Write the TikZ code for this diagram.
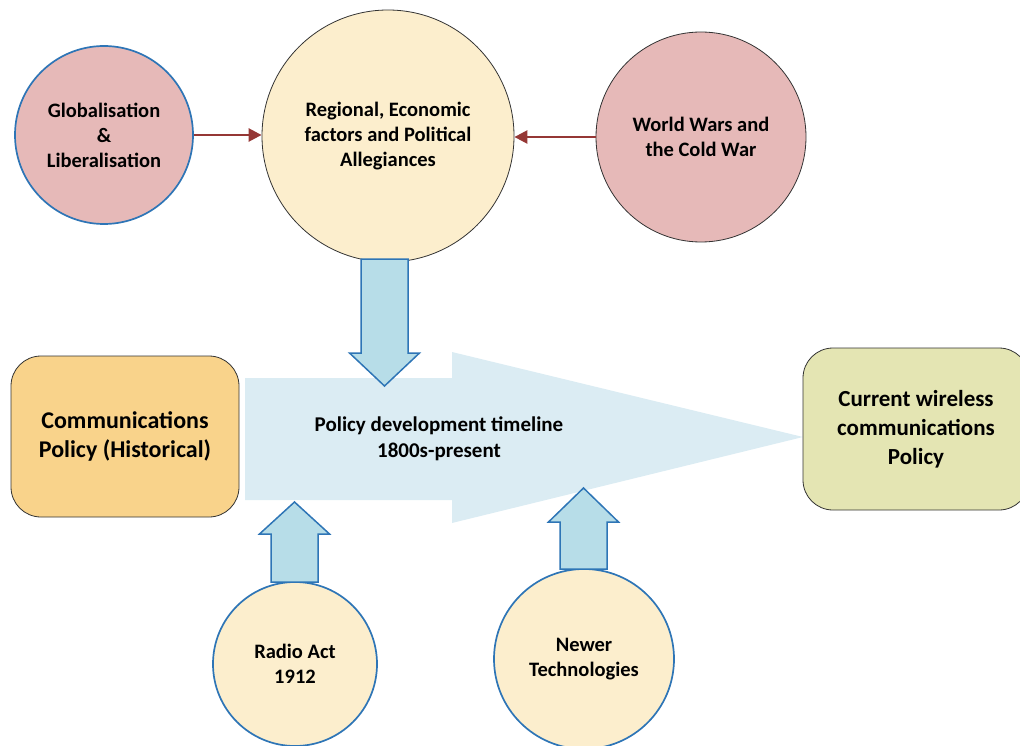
\documentclass[tikz,border=0pt]{standalone}
\usepackage{fontspec}
\setmainfont{Carlito}
\usetikzlibrary{calc,arrows.meta}

\definecolor{pinkfill}{HTML}{E6B9B8}
\definecolor{creamfill}{HTML}{FCEECD}
\definecolor{ringblue}{HTML}{2E75B6}
\definecolor{arrowfill}{HTML}{B7DDE8}
\definecolor{timelinefill}{HTML}{DBECF3}
\definecolor{orangefill}{HTML}{F9D38B}
\definecolor{olivefill}{HTML}{E4E5B3}
\definecolor{linkred}{HTML}{953735}
\definecolor{rimgrey}{HTML}{333333}

% vertical block arrow: #1 centre x, #2 tail y, #3 head base y, #4 tip y
\newcommand{\vblockarrow}[4]{%
  \draw[blockarrow] (#1-23.5,#2) -- (#1-23.5,#3) -- (#1-35,#3) -- (#1,#4)
    -- (#1+35,#3) -- (#1+23.5,#3) -- (#1+23.5,#2) -- cycle;}

\tikzset{
  txt/.style={font=\bfseries\fontsize{20.5}{25}\selectfont, align=center, text=black},
  bubble/.style={circle, txt, inner sep=0pt},
  bluering/.style={draw=ringblue, line width=1.7pt},
  greyring/.style={draw=rimgrey, line width=0.8pt},
  roundbox/.style={rectangle, rounded corners=30pt, draw=rimgrey, line width=0.8pt, inner sep=0pt},
  link/.style={draw=linkred, line width=2.5pt, -{Triangle[length=13pt,width=13pt]}},
  blockarrow/.style={fill=arrowfill, draw=ringblue, line width=1.5pt, line join=miter},
}

\begin{document}
\begin{tikzpicture}[x=1pt,y=-1pt]
  \useasboundingbox (0,0) rectangle (1020,746);

  % timeline arrow in the background
  \coordinate (tip) at (803,437);
  \fill[timelinefill] (245,378) -- (452,378) -- (452,352) -- (tip)
    -- (452,523) -- (452,500) -- (245,500) -- cycle;
  \node[txt, font=\bfseries\fontsize{21}{26}\selectfont] (timeline) at (439,439)
    {Policy development timeline\\1800s-present};

  % influences at the top
  \node[bubble, bluering, fill=pinkfill, minimum size=178pt] (glob) at (104,135)
    {Globalisation\\\&\\Liberalisation};
  \node[bubble, greyring, fill=creamfill, minimum size=252pt] (reg) at (388,136)
    {Regional, Economic\\factors and Political\\Allegiances};
  \node[bubble, greyring, fill=pinkfill, minimum size=210pt] (world) at (701,137)
    {World Wars and\\the Cold War};

  \draw[link] (glob.east) -- (glob.east -| reg.west);
  \draw[link] (world.west) -- (world.west -| reg.east);

  % start and end of the timeline
  \node[roundbox, fill=orangefill, minimum width=228pt, minimum height=161pt,
        txt, font=\bfseries\fontsize{24}{29}\selectfont] (hist) at (125,436.5)
    {Communications\\Policy (Historical)};
  \node[roundbox, fill=olivefill, minimum width=226pt, minimum height=162pt,
        txt, font=\bfseries\fontsize{23}{29}\selectfont] (current) at (916,429)
    {Current wireless\\communications\\Policy};

  % influences from below
  \node[bubble, bluering, fill=creamfill, minimum size=164pt] (radio) at (295,664)
    {Radio Act\\1912};
  \node[bubble, bluering, fill=creamfill, minimum size=180pt] (newer) at (584,659)
    {Newer\\Technologies};

  % block arrows feeding the timeline
  \vblockarrow{384.5}{259}{353}{386}
  \vblockarrow{294.5}{582}{534}{502}
  \vblockarrow{583.5}{569}{522}{488}
\end{tikzpicture}
\end{document}
